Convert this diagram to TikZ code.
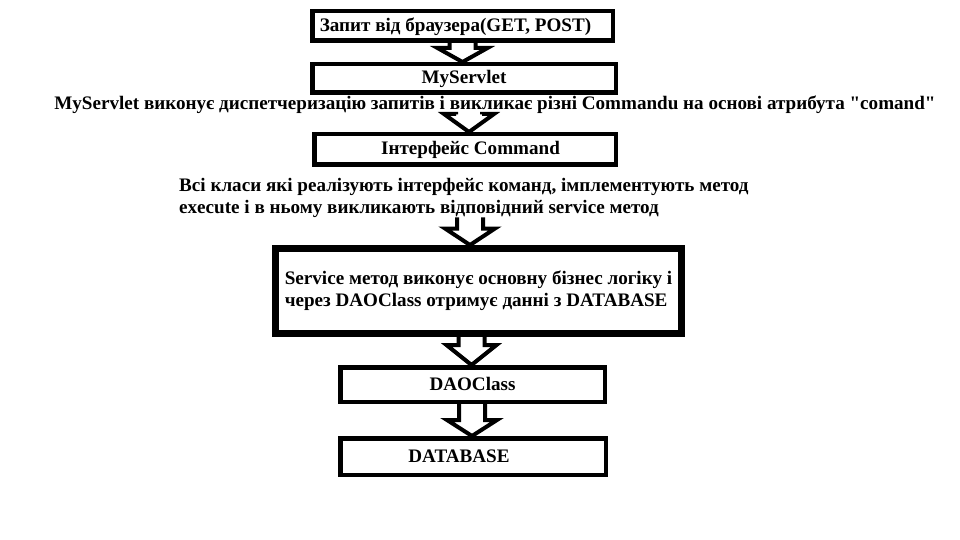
\documentclass[tikz,border=0pt]{standalone}
\usepackage{fontspec}
\setmainfont{Liberation Serif}[Ligatures=TeXOff]
\usetikzlibrary{calc}
\pgfdeclarelayer{arrowlayer}
\pgfsetlayers{arrowlayer,main}
\tikzset{
  txt/.style={font=\bfseries\fontsize{19.1}{22}\selectfont},
  box/.style={txt, draw, line width=4.5pt, fill=white, inner sep=0pt},
  oneline/.style={text height=14pt, text depth=3pt},
  lbl/.style={txt, inner sep=0pt},
  barrow/.style={draw, line width=4pt, fill=white},
}
\newcommand\blkarrow[4]{%
  \draw[barrow] let \p1=(#1.south), \p2=(#2.north) in
   (#3pt-13pt,\y1) -- (#3pt-13pt,\y2+#4pt) -- (#3pt-25pt,\y2+#4pt) -- (#3pt,\y2)
   -- (#3pt+25pt,\y2+#4pt) -- (#3pt+13pt,\y2+#4pt) -- (#3pt+13pt,\y1);
}
\begin{document}
\begin{tikzpicture}[x=1pt,y=-1pt]
\useasboundingbox (0,0) rectangle (960,540);
\node[box, oneline, minimum width=300.5pt, minimum height=29.5pt] (b1) at (462.5,26) {Запит від браузера(GET, POST)\hspace*{14pt}};
\node[box, oneline, minimum width=303.5pt, minimum height=28.5pt] (b2) at (464,78.5) {MyServlet};
\node[lbl, anchor=base] (t1) at (495,110) {MyServlet виконує диспетчеризацію запитів і викликає різні Commandu на основі атрибута "comand"};
\node[box, oneline, minimum width=301.5pt, minimum height=30.5pt] (b3) at (465,149.5) {\hspace*{11pt}Інтерфейс Command};
\node[lbl, align=left, anchor=base west] (t2) at (179,213) {Всі класи які реалізують інтерфейс команд, імплементують метод\\execute і в ньому викликають відповідний service метод};
\node[box, line width=7pt, align=left, minimum width=406pt, minimum height=85pt] (b4) at (478.5,291) {Service метод виконує основну бізнес логіку і\\через DAOClass отримує данні з DATABASE};
\node[box, oneline, minimum width=264.5pt, minimum height=34.5pt] (b5) at (472.5,384.5) {DAOClass};
\node[box, oneline, minimum width=265.5pt, minimum height=36.5pt] (b6) at (473,456.5) {DATABASE\hspace*{28pt}};
\begin{pgfonlayer}{arrowlayer}
\blkarrow{b1}{b2}{462.5}{14}
\blkarrow{t1}{b3}{469}{18}
\blkarrow{t2}{b4}{470}{16.5}
\blkarrow{b4}{b5}{471.5}{20}
\blkarrow{b5}{b6}{472}{16}
\end{pgfonlayer}
\end{tikzpicture}
\end{document}
